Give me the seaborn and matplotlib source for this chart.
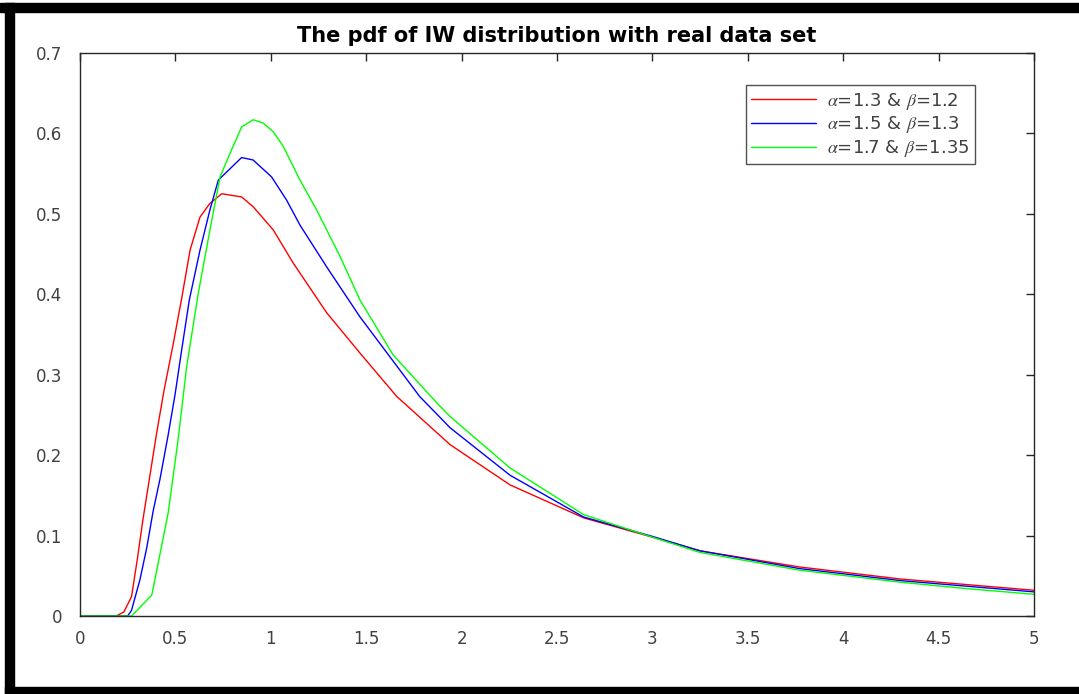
import numpy as np
import pandas as pd
import matplotlib
matplotlib.use('Agg')
import matplotlib.pyplot as plt
import seaborn as sns
from matplotlib.patches import Rectangle

# 값은 그림에서 읽어낸 근사치
labels = [r'$\alpha$=1.3 & $\beta$=1.2',
          r'$\alpha$=1.5 & $\beta$=1.3',
          r'$\alpha$=1.7 & $\beta$=1.35']

x_red = [0, 0.19, 0.23, 0.27, 0.30, 0.33, 0.36, 0.40, 0.44, 0.49, 0.533, 0.577,
         0.629, 0.681, 0.743, 0.847, 0.907, 1.013, 1.117, 1.293, 1.467, 1.66, 1.94,
         2.254, 2.64, 3.0, 3.25, 3.77, 4.30, 4.65, 5.0]
y_red = [0, 0, 0.005, 0.024, 0.07, 0.12, 0.165, 0.225, 0.28, 0.34, 0.395, 0.455,
         0.496, 0.513, 0.525, 0.521, 0.509, 0.48, 0.439, 0.377, 0.327, 0.273, 0.213,
         0.163, 0.122, 0.098, 0.081, 0.061, 0.046, 0.039, 0.032]

x_blue = [0, 0.25, 0.27, 0.314, 0.35, 0.383, 0.419, 0.462, 0.498, 0.533, 0.573, 0.629,
          0.681, 0.725, 0.847, 0.907, 1.004, 1.083, 1.153, 1.293, 1.467, 1.78, 1.94,
          2.254, 2.64, 3.0, 3.25, 3.77, 4.30, 4.65, 5.0]
y_blue = [0, 0, 0.007, 0.045, 0.085, 0.13, 0.17, 0.225, 0.275, 0.331, 0.393, 0.455,
          0.505, 0.542, 0.570, 0.567, 0.546, 0.517, 0.486, 0.434, 0.372, 0.273, 0.234,
          0.175, 0.123, 0.099, 0.081, 0.059, 0.044, 0.037, 0.030]

x_green = [0, 0.27, 0.376, 0.41, 0.462, 0.514, 0.559, 0.619, 0.681, 0.734, 0.786, 0.847,
           0.907, 0.96, 1.013, 1.065, 1.153, 1.24, 1.363, 1.467, 1.64, 1.87, 1.94,
           2.254, 2.64, 3.0, 3.25, 3.77, 4.30, 4.65, 5.0]
y_green = [0, 0, 0.026, 0.066, 0.128, 0.219, 0.31, 0.40, 0.48, 0.546, 0.575, 0.608,
           0.617, 0.613, 0.602, 0.584, 0.542, 0.505, 0.447, 0.393, 0.325, 0.265, 0.248,
           0.184, 0.126, 0.098, 0.079, 0.057, 0.042, 0.034, 0.027]

colors = ['#ff0000', '#0000ff', '#00ff00']

df = pd.concat([
    pd.DataFrame({'x': x_red, 'y': y_red, 'series': labels[0]}),
    pd.DataFrame({'x': x_blue, 'y': y_blue, 'series': labels[1]}),
    pd.DataFrame({'x': x_green, 'y': y_green, 'series': labels[2]}),
])

sns.set_style('white')
plt.rcParams['font.family'] = ['DejaVu Sans']
plt.rcParams['mathtext.fontset'] = 'stix'

fig = plt.figure(figsize=(10.79, 6.94), dpi=100)
ax = fig.add_axes([80 / 1079, 1 - 616 / 694, 954 / 1079, 563 / 694])

sns.lineplot(data=df, x='x', y='y', hue='series', palette=colors,
             linewidth=1.0, ax=ax, sort=True, estimator=None)

ax.set_xlim(0, 5)
ax.set_ylim(0, 0.7)
ax.set_xticks(np.arange(0, 5.01, 0.5))
ax.set_xticklabels(['0', '0.5', '1', '1.5', '2', '2.5', '3', '3.5', '4', '4.5', '5'])
ax.set_yticks(np.arange(0, 0.71, 0.1))
ax.set_yticklabels(['0', '0.1', '0.2', '0.3', '0.4', '0.5', '0.6', '0.7'])
ax.tick_params(axis='both', direction='in', length=6, width=1, top=True, right=True,
               labelsize=12, labelcolor='#404040', color='#262626')
ax.tick_params(axis='y', pad=13)
ax.tick_params(axis='x', pad=10)
for s in ax.spines.values():
    s.set_color('#262626')
    s.set_linewidth(1)
ax.set_xlabel('')
ax.set_ylabel('')
ax.set_title('The pdf of IW distribution with real data set',
             fontsize=15, fontweight='bold', pad=8, color='black')

leg = ax.legend(loc='upper right', bbox_to_anchor=(0.938, 0.943), fontsize=13,
                frameon=True, fancybox=False, handlelength=3.6, borderpad=0.3,
                labelspacing=0.15, handletextpad=0.6, borderaxespad=0)
leg.get_frame().set_edgecolor('#262626')
leg.get_frame().set_linewidth(1)
for t in leg.get_texts():
    t.set_color('#404040')

# 이미지 외곽 검은 테두리
fig.patches.append(Rectangle((0, 1 - 12 / 694), 1, 9 / 694, transform=fig.transFigure,
                             color='black', zorder=10))
fig.patches.append(Rectangle((5 / 1079, 0), 9 / 1079, 1 - 3 / 694, transform=fig.transFigure,
                             color='black', zorder=10))
fig.patches.append(Rectangle((5 / 1079, 0), 1, 7 / 694, transform=fig.transFigure,
                             color='black', zorder=10))

fig.savefig('out.png', dpi=100)
